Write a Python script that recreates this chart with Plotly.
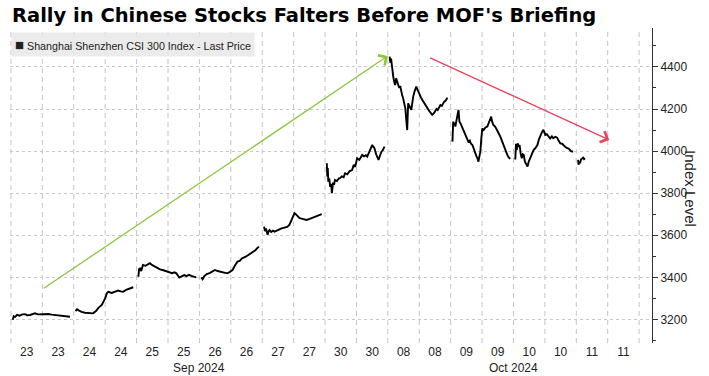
import plotly.graph_objects as go

# ---- data: (minutes since open, index level) per trading day ----
sep23 = [(0,3198),(4,3215),(10,3212),(18,3222),(28,3218),(40,3224),(51,3225),(60,3220),(72,3221),(82,3226),(92,3229),(105,3224),(120,3225),(135,3227),(148,3226),(162,3223),(176,3221),(190,3218),(203,3216),(220,3214),(238,3213)]
sep24 = [(0,3240),(6,3248),(15,3242),(25,3236),(39,3232),(55,3230),(73,3229),(85,3240),(95,3255),(109,3269),(116,3285),(123,3300),(130,3324),(136,3331),(150,3326),(165,3334),(177,3337),(188,3333),(198,3331),(210,3340),(225,3345),(240,3353)]
sep25 = [(0,3403),(3,3440),(7,3443),(12,3430),(19,3459),(30,3455),(40,3462),(48,3467),(58,3458),(68,3451),(80,3446),(90,3438),(101,3435),(115,3430),(129,3427),(140,3420),(150,3424),(158,3419),(165,3408),(170,3399),(180,3405),(191,3411),(200,3406),(210,3412),(220,3407),(230,3402),(240,3400)]
sep26 = [(0,3400),(3,3392),(6,3391),(12,3405),(23,3416),(35,3420),(45,3428),(57,3435),(68,3430),(79,3427),(90,3423),(100,3420),(108,3419),(118,3425),(130,3435),(140,3455),(151,3475),(160,3478),(170,3490),(185,3498),(195,3505),(205,3515),(215,3522),(225,3528),(232,3538),(240,3546)]
sep27 = [(0,3641),(4,3620),(8,3632),(12,3608),(15,3602),(19,3618),(23,3625),(30,3616),(37,3622),(44,3617),(55,3624),(65,3628),(73,3633),(85,3636),(98,3641),(106,3650),(115,3673),(122,3690),(127,3705),(135,3697),(142,3686),(148,3681),(160,3678),(177,3673),(190,3678),(200,3682),(211,3686),(225,3694),(240,3701)]
sep30 = [(0,3942),(2,3880),(4,3920),(6,3855),(10,3870),(14,3830),(18,3845),(21,3800),(26,3850),(30,3840),(34,3863),(42,3858),(50,3870),(55,3871),(62,3880),(70,3876),(76,3895),(85,3890),(95,3905),(105,3910),(112,3935),(118,3925),(126,3966),(135,3958),(147,3982),(155,3975),(162,3980),(168,3974),(176,3995),(183,4012),(189,4029),(194,4020),(198,4014),(205,3985),(210,3965),(215,3958),(220,3975),(227,3997),(233,4005),(240,4021)]
oct08 = [(0,4449),(3,4420),(6,4440),(10,4394),(13,4370),(15,4354),(19,4330),(23,4314),(27,4346),(31,4330),(35,4322),(40,4300),(44,4310),(48,4283),(52,4265),(56,4251),(60,4230),(65,4204),(69,4150),(73,4100),(77,4227),(82,4210),(86,4205),(90,4196),(94,4230),(98,4259),(104,4285),(111,4306),(115,4295),(119,4283),(125,4270),(130,4255),(136,4243),(145,4225),(150,4215),(157,4204),(165,4190),(172,4180),(177,4172),(184,4180),(190,4188),(195,4200),(200,4195),(205,4210),(211,4219),(217,4215),(222,4230),(227,4235),(233,4240),(240,4254)]
oct09 = [(0,4045),(3,4140),(6,4125),(9,4135),(12,4117),(16,4150),(21,4172),(25,4196),(29,4140),(34,4130),(41,4108),(47,4095),(54,4077),(60,4060),(66,4045),(72,4050),(77,4035),(83,4029),(88,4010),(95,3990),(100,3975),(104,3965),(108,3950),(112,3975),(116,3997),(120,4060),(124,4108),(130,4100),(137,4112),(145,4117),(152,4140),(158,4150),(161,4164),(165,4140),(170,4124),(178,4115),(186,4101),(192,4085),(199,4069),(205,4050),(211,4029),(218,4005),(223,3995),(228,3982),(234,3970),(240,3963)]
oct10 = [(0,3960),(3,4035),(6,4005),(10,4037),(14,4020),(18,4029),(22,3990),(27,3966),(31,3985),(35,3982),(40,3950),(45,3940),(51,3927),(56,3950),(60,3960),(64,3974),(70,3990),(76,4005),(84,4015),(92,4029),(98,4055),(105,4077),(111,4090),(117,4101),(121,4085),(125,4077),(131,4080),(137,4069),(145,4060),(152,4070),(158,4061),(166,4068),(174,4064),(180,4050),(187,4037),(195,4035),(201,4025),(207,4021),(215,4015),(224,4010),(232,4000),(240,3997)]
oct11 = [(0,3958),(2,3935),(4,3950),(8,3942),(12,3960),(17,3966),(21,3969),(25,3962),(29,3966)]

days = [sep23, sep24, sep25, sep26, sep27, sep30, oct08, oct09, oct10, oct11]
day_labels = ["23", "24", "25", "26", "27", "30", "08", "09", "10", "11"]
month_labels = ["Sep 2024", "Oct 2024"]
month_centers = [6, 16]          # session index at the middle of each month's labels
y_ticks = [3200, 3400, 3600, 3800, 4000, 4200, 4400]

# arrows (start -> end), in session-index / index-level units
green_arrow = ((1.0, 3343), (12.0, 4452))
red_arrow = ((13.3, 4446), (19.05, 4053))

SESSION_MIN = 240  # trading minutes per day

xs, ys = [], []
for d, day in enumerate(days):
    for m, v in day:
        xs.append(2 * d + 0.057 + m / SESSION_MIN * 1.838)
        ys.append(v)
    xs.append(None)
    ys.append(None)

n_sessions = 2 * len(day_labels)
tickvals = [i + 0.5 for i in range(n_sessions)]
ticktext = [lab for lab in day_labels for _ in range(2)]

fig = go.Figure()
fig.add_trace(go.Scatter(x=xs, y=ys, mode="lines",
                         line=dict(color="black", width=1.9),
                         connectgaps=False, showlegend=False, hoverinfo="skip"))

# dashed vertical separators at session boundaries
shapes = [dict(type="line", xref="x", yref="paper", x0=k, x1=k, y0=0, y1=1,
               line=dict(color="#c4c4c4", width=1, dash="5px,4px"), layer="below")
          for k in range(n_sessions + 1)]

fig.update_layout(
    width=709, height=376,
    margin=dict(l=10, r=57, t=28, b=33),
    paper_bgcolor="white", plot_bgcolor="white",
    font=dict(family="Liberation Sans", size=12, color="#222"),
    showlegend=False, shapes=shapes,
)
fig.update_xaxes(
    range=[-0.03, 20.41], showline=False, zeroline=False,
    tickmode="array", tickvals=tickvals, ticktext=ticktext,
    ticks="", showgrid=False,
    tickfont=dict(family="Liberation Sans", size=12, color="#222"),
)
fig.update_yaxes(
    range=[3088, 4585], side="right", showline=True, linecolor="#333", linewidth=1,
    tickmode="array", tickvals=y_ticks, ticks="outside", ticklen=5, tickcolor="#333",
    showgrid=True, gridcolor="#c8c8c8", griddash="dot", gridwidth=1, zeroline=False,
    tickfont=dict(family="Liberation Sans", size=12, color="#222"),
    minor=dict(tickmode="linear", tick0=3100, dtick=200, ticks="outside", ticklen=3,
               tickcolor="#333", showgrid=False),
)

ann = []
# title
ann.append(dict(text="<b>Rally in Chinese Stocks Falters Before MOF's Briefing</b>",
                xref="paper", yref="paper", x=0, y=1.041, xanchor="left", yanchor="middle",
                showarrow=False, font=dict(family="DejaVu Sans", size=19.5, color="black")))
# legend box
ann.append(dict(text="<span style='font-size:15px'>■</span> Shanghai Shenzhen CSI 300 Index - Last Price",
                xref="paper", yref="paper", x=0.0016, y=0.987, xanchor="left", yanchor="top",
                showarrow=False, bgcolor="rgba(232,232,232,0.85)", borderpad=3,
                font=dict(family="Liberation Sans", size=10.7, color="#222")))
# y-axis title
ann.append(dict(text="Index Level", xref="paper", yref="paper", x=1.059, y=0.489,
                textangle=90, showarrow=False, xanchor="center", yanchor="middle",
                font=dict(family="Liberation Sans", size=15, color="#222")))
# month labels
for lab, c in zip(month_labels, month_centers):
    ann.append(dict(text=lab, xref="x", yref="paper", x=c, y=-0.079,
                    showarrow=False, xanchor="center", yanchor="middle",
                    font=dict(family="Liberation Sans", size=12, color="#222")))
# arrows
for (s, e), col in [(green_arrow, "#8cc63f"), (red_arrow, "#e8435a")]:
    ann.append(dict(x=e[0], y=e[1], ax=s[0], ay=s[1], xref="x", yref="y",
                    axref="x", ayref="y", showarrow=True, arrowhead=4, arrowsize=1.8,
                    arrowwidth=1.3, arrowcolor=col, standoff=0, text=""))
fig.update_layout(annotations=ann)

fig.write_html("out.html", config={"displayModeBar": False},
               post_script="document.body.style.margin='0';")
